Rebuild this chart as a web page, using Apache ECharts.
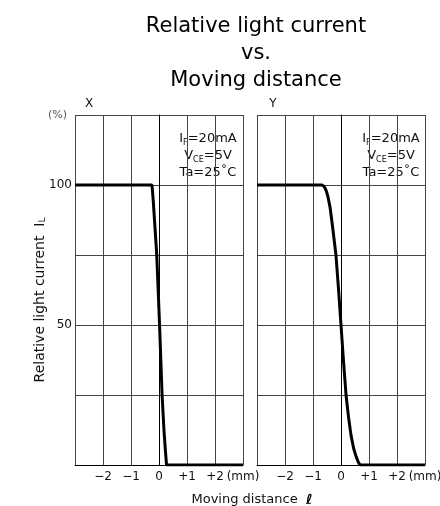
<!DOCTYPE html>
<html>
<head>
<meta charset="utf-8">
<script src="https://cdn.jsdelivr.net/npm/echarts@6/dist/echarts.min.js"></script>
<style>
    html, body { margin: 0; padding: 0; background: #fff; }
    #chart { width: 440px; height: 506px; }
</style>
</head>
<body>
<div id="chart"></div>
<script>
// X direction: moving distance (mm) / relative light current (%)
let distX = [-3, -0.25, -0.21, -0.08, 0.02, 0.11, 0.18, 0.23, 0.27, 3];
let currX = [100, 100, 95, 75, 50, 25, 12, 5, 0, 0];
// Y direction
let distY = [-3, -0.68, -0.6, -0.53, -0.47, -0.39, -0.3, -0.18, -0.09, 0, 0.09, 0.18, 0.27, 0.36, 0.45, 0.54, 0.62, 0.68, 3];
let currY = [100, 100, 99.5, 98, 96, 92, 85, 75, 63, 50, 37, 25, 17, 10.5, 6, 3, 1, 0, 0];
// tick labels
let xTicks = {'-2': '\u22122', '-1': '\u22121', '0': '0', '1': '+1', '2': '+2', '3': '(mm)'};
let yTicks = {'50': '50', '100': '100'};
let panelNames = ['X', 'Y'];
let condLines = ['I{s|F}=20mA', 'V{s|CE}=5V', 'Ta=25\u02daC'];

let font = 'DejaVu Sans';
let myChart = echarts.init(document.getElementById('chart'));

function pairs(xs, ys) {
    let out = [];
    for (let i = 0; i < xs.length; i++) out.push([xs[i], ys[i]]);
    return out;
}

function xAxisOf(idx) {
    return {
        type: 'value', gridIndex: idx, min: -3, max: 3, interval: 1,
        axisLine: {lineStyle: {color: '#000', width: 1}},
        axisTick: {show: false},
        splitLine: {lineStyle: {color: '#444', width: 1}},
        axisLabel: {
            color: '#111', fontFamily: font, fontSize: 12, margin: 6,
            showMinLabel: false, showMaxLabel: true,
            formatter: function (v) { return xTicks[String(v)] || ''; }
        }
    };
}

function yAxisOf(idx) {
    return {
        type: 'value', gridIndex: idx, min: 0, max: 125, interval: 25,
        axisLine: {show: true, lineStyle: {color: '#000', width: 1}},
        axisTick: {show: false},
        splitLine: {lineStyle: {color: '#444', width: 1}},
        axisLabel: {
            show: idx === 0,
            color: '#111', fontFamily: font, fontSize: 12, margin: 3,
            formatter: function (v) { return yTicks[String(v)] || ''; }
        }
    };
}

let condText = condLines.join('\n');
let condRich = {s: {fontSize: 8, fontFamily: font, color: '#111', verticalAlign: 'bottom', lineHeight: 17}};

let option = {
    animation: false,
    backgroundColor: '#fff',
    title: {
        text: 'Relative light current\nvs.\nMoving distance',
        left: 251, top: 8, textAlign: 'center',
        textStyle: {fontFamily: font, fontSize: 21, fontWeight: 'normal', color: '#000', lineHeight: 27}
    },
    grid: [
        {left: 75, top: 115, width: 168, height: 350, outerBoundsMode: 'none'},
        {left: 257, top: 115, width: 168, height: 350, outerBoundsMode: 'none'}
    ],
    xAxis: [xAxisOf(0), xAxisOf(1)],
    yAxis: [yAxisOf(0), yAxisOf(1)],
    series: [
        {
            type: 'line', xAxisIndex: 0, yAxisIndex: 0, data: pairs(distX, currX),
            showSymbol: false, lineStyle: {color: '#000', width: 3}
        },
        {
            type: 'line', xAxisIndex: 1, yAxisIndex: 1, data: pairs(distY, currY),
            showSymbol: false, lineStyle: {color: '#000', width: 3}
        }
    ],
    graphic: [
        {type: 'text', left: 48, top: 110, style: {text: '(%)', fontFamily: font, fontSize: 11, fill: '#555'}},
        {type: 'text', x: 89, y: 104, style: {text: panelNames[0], fontFamily: font, fontSize: 12, fill: '#111', align: 'center', verticalAlign: 'middle'}},
        {type: 'text', x: 273, y: 104, style: {text: panelNames[1], fontFamily: font, fontSize: 12, fill: '#111', align: 'center', verticalAlign: 'middle'}},
        {type: 'text', x: 208, y: 130, style: {text: condText, fontFamily: font, fontSize: 13, lineHeight: 17, fill: '#111', align: 'center', rich: condRich}},
        {type: 'text', x: 391, y: 130, style: {text: condText, fontFamily: font, fontSize: 13, lineHeight: 17, fill: '#111', align: 'center', rich: condRich}},
        {
            type: 'text', x: 40, y: 300, rotation: Math.PI / 2,
            style: {
                text: 'Relative light current  I{s|L}', fontFamily: font, fontSize: 14, fill: '#111',
                align: 'center', verticalAlign: 'middle',
                rich: {s: {fontSize: 9, fontFamily: font, fill: '#111', verticalAlign: 'bottom'}}
            }
        },
        {
            type: 'text', x: 252, y: 500,
            style: {
                text: 'Moving distance  {l|\u2113}', fontFamily: font, fontSize: 13, fill: '#111',
                align: 'center', verticalAlign: 'middle',
                rich: {l: {fontSize: 14, fontWeight: 'bold', fontStyle: 'italic', fontFamily: font, fill: '#000'}}
            }
        }
    ]
};

myChart.setOption(option);
</script>
</body>
</html>
